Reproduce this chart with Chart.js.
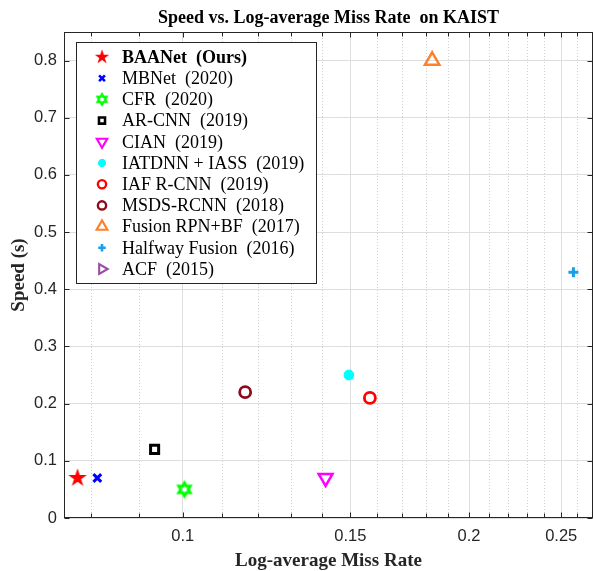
<!DOCTYPE html>
<html>
<head>
<meta charset="utf-8">
<script src="https://cdn.jsdelivr.net/npm/chart.js@4.4.1/dist/chart.umd.min.js"></script>
<style>
html, body { margin:0; padding:0; background:#fff; }
#wrap { width:594px; height:571px; }
</style>
</head>
<body>
<div id="wrap"><canvas id="mychart"></canvas></div>
<script>
// data
const methodNames = ['BAANet  (Ours)', 'MBNet  (2020)', 'CFR  (2020)', 'AR-CNN  (2019)', 'CIAN  (2019)',
    'IATDNN + IASS  (2019)', 'IAF R-CNN  (2019)', 'MSDS-RCNN  (2018)', 'Fusion RPN+BF  (2017)',
    'Halfway Fusion  (2016)', 'ACF  (2015)'];
const missRates = [0.0775, 0.0813, 0.1004, 0.0934, 0.1413, 0.1495, 0.1573, 0.1163, 0.1829, 0.2575, 0.4732];
const speeds = [0.07, 0.07, 0.05, 0.12, 0.07, 0.25, 0.21, 0.22, 0.80, 0.43, 2.73];
const xMajorTicks = [0.1, 0.15, 0.2, 0.25];
const xMinorTicks = [0.08, 0.09, 0.11, 0.12, 0.13, 0.14, 0.16, 0.17, 0.18, 0.19, 0.21, 0.22, 0.23, 0.24, 0.26];
const yTicks = [0, 0.1, 0.2, 0.3, 0.4, 0.5, 0.6, 0.7, 0.8];

// marker looks
function starMarker(points, outerR, innerR, color, filled, lw)
{
    const size = Math.ceil(outerR * 2 + lw + 4);
    const c = document.createElement('canvas');
    c.width = size; c.height = size;
    const ctx = c.getContext('2d');
    ctx.beginPath();
    for (let k = 0; k < points * 2; k++) {
        const r = k % 2 === 0 ? outerR : innerR;
        const a = -Math.PI / 2 + k * Math.PI / points;
        const px = size / 2 + r * Math.cos(a), py = size / 2 + r * Math.sin(a);
        if (k === 0) ctx.moveTo(px, py); else ctx.lineTo(px, py);
    }
    ctx.closePath();
    if (filled) { ctx.fillStyle = color; ctx.fill(); }
    if (lw) { ctx.strokeStyle = color; ctx.lineWidth = lw; ctx.stroke(); }
    return c;
}

const markerColors = ['#ff0000', '#0000ff', '#00ff00', '#000000', '#ff00ff', '#00ffff',
    '#ff0000', '#8c0b1c', '#ff7f2a', '#1a9fe6', '#9b4ea6'];
const markerShapes = [
    starMarker(5, 9.8, 3.75, '#ff0000', true, 0),
    'crossRot',
    starMarker(6, 6.5, 3.75, '#00ff00', false, 3),
    'rect', 'triangle', 'star', 'circle', 'circle', 'triangle', 'cross', 'triangle'
];
const markerRotation = [0, 0, 0, 0, 180, 0, 0, 0, 0, 0, 90];
const markerRadius = [10, 5.5, 8, 5.7, 8, 5.2, 5.5, 5.5, 8.3, 5, 7.5];
const markerWidth = [0, 3, 0, 3, 2.5, 3.8, 2.8, 2.8, 2.5, 3, 2.5];

const axisColor = '#262626';

const datasets = methodNames.map((name, i) => ({
    label: name,
    data: [{ x: missRates[i], y: speeds[i] }],
    pointStyle: markerShapes[i],
    pointRotation: markerRotation[i],
    pointRadius: markerRadius[i],
    pointBorderWidth: markerWidth[i],
    pointBorderColor: markerColors[i],
    pointBackgroundColor: 'rgba(0,0,0,0)',
    showLine: false
}));

// minor dotted grid, box frame and inward ticks like the original figure
const axisFrame =
{
    id: 'axisFrame',
    beforeDatasetsDraw(chart)
    {
        const ctx = chart.ctx, a = chart.chartArea, xs = chart.scales.x;
        ctx.save();
        ctx.strokeStyle = '#d2d2d2';
        ctx.lineWidth = 1;
        ctx.setLineDash([1, 2]);
        xMinorTicks.forEach(v => {
            const px = Math.round(xs.getPixelForValue(v)) + 0.5;
            ctx.beginPath(); ctx.moveTo(px, a.top); ctx.lineTo(px, a.bottom); ctx.stroke();
        });
        ctx.restore();
    },
    afterDatasetsDraw(chart)
    {
        const ctx = chart.ctx, a = chart.chartArea, xs = chart.scales.x, ys = chart.scales.y;
        const L = Math.round(a.left) + 0.5, R = Math.round(a.right) - 0.5;
        const T = Math.round(a.top) + 0.5, B = Math.round(a.bottom) - 0.5;
        ctx.save();
        ctx.strokeStyle = axisColor;
        ctx.lineWidth = 1;
        ctx.strokeRect(L, T, R - L, B - T);
        ctx.beginPath();
        xMajorTicks.concat(xMinorTicks).forEach(v => {
            const len = xMajorTicks.includes(v) ? 5 : 4;
            const px = Math.round(xs.getPixelForValue(v)) + 0.5;
            ctx.moveTo(px, B); ctx.lineTo(px, B - len);
            ctx.moveTo(px, T); ctx.lineTo(px, T + len);
        });
        yTicks.forEach(v => {
            const py = Math.round(ys.getPixelForValue(v)) + 0.5;
            ctx.moveTo(L, py); ctx.lineTo(L + 5, py);
            ctx.moveTo(R, py); ctx.lineTo(R - 5, py);
        });
        ctx.stroke();
        ctx.restore();
    }
};

// boxed legend in the upper left of the plot
const boxLegend =
{
    id: 'boxLegend',
    afterDraw(chart)
    {
        const ctx = chart.ctx;
        const bx = 76.5, by = 42.5, bw = 240, bh = 241;
        const rowH = 21.2, y0 = 57, mx = 102, tx = 122;
        ctx.save();
        ctx.fillStyle = '#ffffff';
        ctx.fillRect(bx, by, bw, bh);
        ctx.strokeStyle = axisColor;
        ctx.lineWidth = 1;
        ctx.strokeRect(bx, by, bw, bh);
        chart.data.datasets.forEach((ds, i) => {
            const y = y0 + i * rowH;
            const st = ds.pointStyle;
            if (st instanceof HTMLCanvasElement) {
                const s = 0.78;
                ctx.drawImage(st, mx - st.width * s / 2, y - st.height * s / 2, st.width * s, st.height * s);
            } else {
                ctx.strokeStyle = ds.pointBorderColor;
                ctx.fillStyle = ds.pointBackgroundColor;
                ctx.lineWidth = ds.pointBorderWidth * 0.85;
                Chart.helpers.drawPoint(ctx, {
                    pointStyle: st,
                    rotation: ds.pointRotation,
                    radius: ds.pointRadius * 0.75,
                    borderWidth: ds.pointBorderWidth * 0.85
                }, mx, y);
            }
            ctx.fillStyle = '#000000';
            ctx.font = (i === 0 ? 'bold ' : '') + '18px "Liberation Serif", "Times New Roman", serif';
            ctx.textBaseline = 'middle';
            ctx.textAlign = 'left';
            ctx.fillText(ds.label, tx, y + 1);
        });
        ctx.restore();
    }
};

const tickFont = { family: '"Liberation Sans", Arial, sans-serif', size: 16.5 };
const labelFont = { family: '"Liberation Serif", "Times New Roman", serif', size: 19, weight: 'bold', lineHeight: 1.0 };

const speedChart = new Chart(document.getElementById('mychart').getContext('2d'),
{
    type: 'scatter',
    plugins: [axisFrame, boxLegend],
    data: { datasets: datasets },
    options:
    {
        responsive: true,
        maintainAspectRatio: false,
        animation: false,
        events: [],
        layout: { autoPadding: false, padding: { top: 0, left: 0, right: 1, bottom: 0 } },
        scales:
        {
            x:
            {
                type: 'logarithmic',
                min: 0.075,
                max: 0.27,
                afterBuildTicks: (scale) => {
                    scale.ticks = xMajorTicks.concat(xMinorTicks).sort((p, q) => p - q).map(v => ({ value: v }));
                },
                afterFit: (scale) => { scale.height = 53; scale.paddingLeft = 0; scale.paddingRight = 0; },
                grid:
                {
                    drawTicks: false,
                    color: (c) => (c.tick && xMajorTicks.includes(c.tick.value)) ? '#dedede' : 'rgba(0,0,0,0)'
                },
                border: { display: false },
                ticks:
                {
                    autoSkip: false,
                    maxRotation: 0,
                    padding: 9,
                    color: axisColor,
                    font: tickFont,
                    callback: (v) => xMajorTicks.includes(v) ? String(v) : ''
                },
                title:
                {
                    display: true,
                    text: 'Log-average Miss Rate',
                    color: '#262626',
                    font: labelFont,
                    padding: { top: 0, bottom: 0 }
                }
            },
            y:
            {
                min: 0,
                max: 0.85,
                afterBuildTicks: (scale) => { scale.ticks = yTicks.map(v => ({ value: v })); },
                afterFit: (scale) => { scale.width = 64; },
                grid: { drawTicks: false, color: '#dedede' },
                border: { display: false },
                ticks:
                {
                    padding: 7,
                    color: axisColor,
                    font: tickFont,
                    callback: (v) => String(v)
                },
                title:
                {
                    display: true,
                    text: 'Speed (s)',
                    color: '#262626',
                    font: labelFont,
                    padding: { top: 10, bottom: 0 }
                }
            }
        },
        plugins:
        {
            legend: { display: false },
            tooltip: { enabled: false },
            title:
            {
                display: true,
                fullSize: false,
                text: 'Speed vs. Log-average Miss Rate  on KAIST',
                color: '#000000',
                font: { family: '"Liberation Serif", "Times New Roman", serif', size: 18, weight: 'bold' },
                padding: { top: 8, bottom: 2.4 }
            }
        }
    }
});
</script>
</body>
</html>
